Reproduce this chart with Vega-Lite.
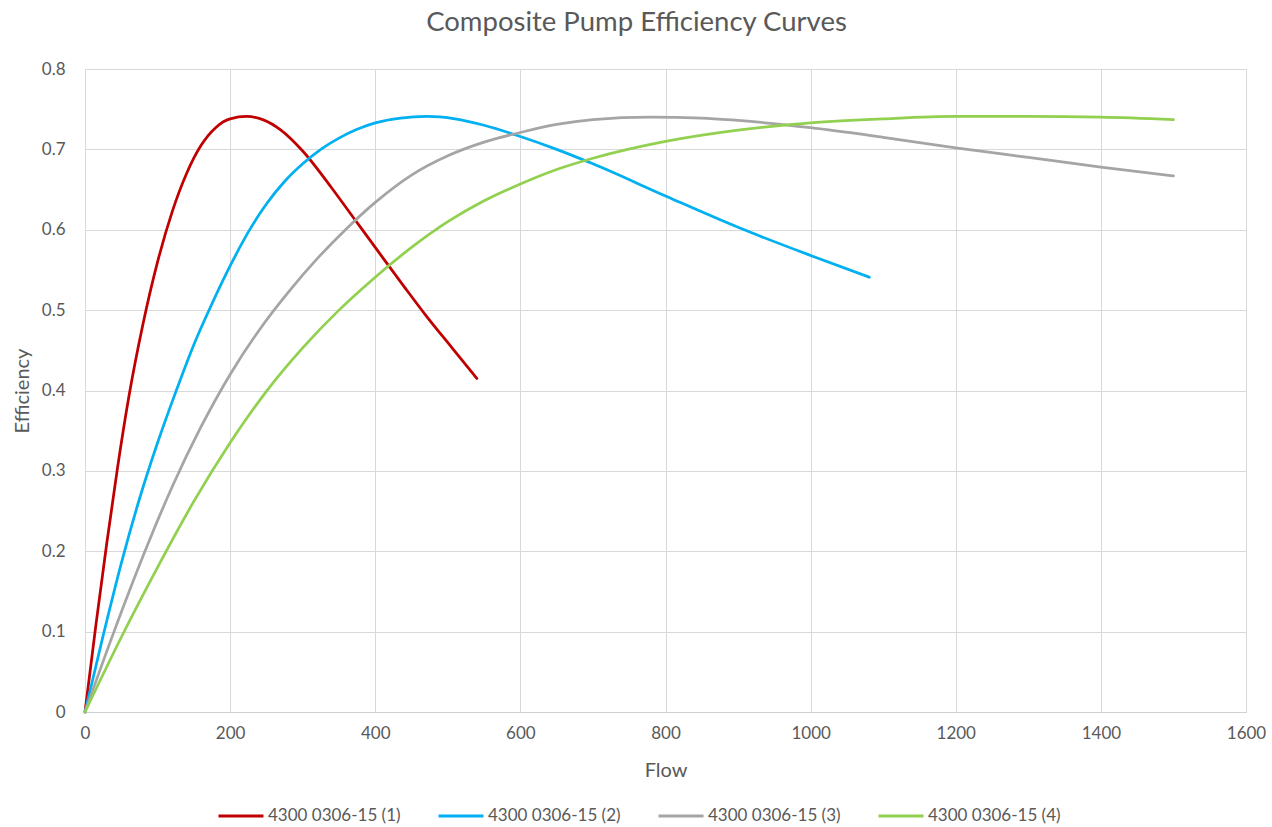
{
  "$schema": "https://vega.github.io/schema/vega-lite/v6.json",
  "autosize": {"type": "none"},
  "padding": {"left": 85, "top": 69, "right": 26, "bottom": 115},
  "width": 1161,
  "height": 643,
  "background": "white",
  "title": {
    "text": "Composite Pump Efficiency Curves",
    "font": "Lato",
    "fontSize": 27.5,
    "fontWeight": "normal",
    "color": "#595959",
    "anchor": "middle",
    "dx": -29,
    "offset": 24
  },
  "config": {
    "view": {"stroke": null}
  },
  "data": {
    "values": [
      {"series": "4300 0306-15 (1)", "flow": 0, "eff": 0},
      {"series": "4300 0306-15 (1)", "flow": 15, "eff": 0.108},
      {"series": "4300 0306-15 (1)", "flow": 30, "eff": 0.21},
      {"series": "4300 0306-15 (1)", "flow": 45, "eff": 0.305},
      {"series": "4300 0306-15 (1)", "flow": 60, "eff": 0.39},
      {"series": "4300 0306-15 (1)", "flow": 80, "eff": 0.483},
      {"series": "4300 0306-15 (1)", "flow": 100, "eff": 0.56},
      {"series": "4300 0306-15 (1)", "flow": 120, "eff": 0.622},
      {"series": "4300 0306-15 (1)", "flow": 140, "eff": 0.67},
      {"series": "4300 0306-15 (1)", "flow": 160, "eff": 0.705},
      {"series": "4300 0306-15 (1)", "flow": 180, "eff": 0.727},
      {"series": "4300 0306-15 (1)", "flow": 200, "eff": 0.738},
      {"series": "4300 0306-15 (1)", "flow": 223, "eff": 0.741},
      {"series": "4300 0306-15 (1)", "flow": 245, "eff": 0.737},
      {"series": "4300 0306-15 (1)", "flow": 270, "eff": 0.724},
      {"series": "4300 0306-15 (1)", "flow": 300, "eff": 0.698},
      {"series": "4300 0306-15 (1)", "flow": 340, "eff": 0.652},
      {"series": "4300 0306-15 (1)", "flow": 370, "eff": 0.615},
      {"series": "4300 0306-15 (1)", "flow": 400, "eff": 0.578},
      {"series": "4300 0306-15 (1)", "flow": 440, "eff": 0.529},
      {"series": "4300 0306-15 (1)", "flow": 471, "eff": 0.492},
      {"series": "4300 0306-15 (1)", "flow": 505, "eff": 0.454},
      {"series": "4300 0306-15 (1)", "flow": 540, "eff": 0.415},

      {"series": "4300 0306-15 (2)", "flow": 0, "eff": 0},
      {"series": "4300 0306-15 (2)", "flow": 25, "eff": 0.095},
      {"series": "4300 0306-15 (2)", "flow": 50, "eff": 0.185},
      {"series": "4300 0306-15 (2)", "flow": 75, "eff": 0.265},
      {"series": "4300 0306-15 (2)", "flow": 100, "eff": 0.335},
      {"series": "4300 0306-15 (2)", "flow": 125, "eff": 0.398},
      {"series": "4300 0306-15 (2)", "flow": 150, "eff": 0.457},
      {"series": "4300 0306-15 (2)", "flow": 175, "eff": 0.508},
      {"series": "4300 0306-15 (2)", "flow": 200, "eff": 0.555},
      {"series": "4300 0306-15 (2)", "flow": 225, "eff": 0.597},
      {"series": "4300 0306-15 (2)", "flow": 250, "eff": 0.632},
      {"series": "4300 0306-15 (2)", "flow": 275, "eff": 0.66},
      {"series": "4300 0306-15 (2)", "flow": 300, "eff": 0.682},
      {"series": "4300 0306-15 (2)", "flow": 325, "eff": 0.7},
      {"series": "4300 0306-15 (2)", "flow": 350, "eff": 0.714},
      {"series": "4300 0306-15 (2)", "flow": 375, "eff": 0.725},
      {"series": "4300 0306-15 (2)", "flow": 400, "eff": 0.733},
      {"series": "4300 0306-15 (2)", "flow": 435, "eff": 0.739},
      {"series": "4300 0306-15 (2)", "flow": 471, "eff": 0.741},
      {"series": "4300 0306-15 (2)", "flow": 510, "eff": 0.738},
      {"series": "4300 0306-15 (2)", "flow": 550, "eff": 0.73},
      {"series": "4300 0306-15 (2)", "flow": 600, "eff": 0.716},
      {"series": "4300 0306-15 (2)", "flow": 650, "eff": 0.7},
      {"series": "4300 0306-15 (2)", "flow": 700, "eff": 0.682},
      {"series": "4300 0306-15 (2)", "flow": 800, "eff": 0.642},
      {"series": "4300 0306-15 (2)", "flow": 900, "eff": 0.603},
      {"series": "4300 0306-15 (2)", "flow": 1000, "eff": 0.568},
      {"series": "4300 0306-15 (2)", "flow": 1081, "eff": 0.541},

      {"series": "4300 0306-15 (3)", "flow": 0, "eff": 0},
      {"series": "4300 0306-15 (3)", "flow": 40, "eff": 0.1},
      {"series": "4300 0306-15 (3)", "flow": 80, "eff": 0.194},
      {"series": "4300 0306-15 (3)", "flow": 120, "eff": 0.28},
      {"series": "4300 0306-15 (3)", "flow": 160, "eff": 0.355},
      {"series": "4300 0306-15 (3)", "flow": 200, "eff": 0.42},
      {"series": "4300 0306-15 (3)", "flow": 240, "eff": 0.475},
      {"series": "4300 0306-15 (3)", "flow": 280, "eff": 0.522},
      {"series": "4300 0306-15 (3)", "flow": 320, "eff": 0.564},
      {"series": "4300 0306-15 (3)", "flow": 360, "eff": 0.601},
      {"series": "4300 0306-15 (3)", "flow": 400, "eff": 0.634},
      {"series": "4300 0306-15 (3)", "flow": 450, "eff": 0.668},
      {"series": "4300 0306-15 (3)", "flow": 500, "eff": 0.692},
      {"series": "4300 0306-15 (3)", "flow": 550, "eff": 0.709},
      {"series": "4300 0306-15 (3)", "flow": 600, "eff": 0.721},
      {"series": "4300 0306-15 (3)", "flow": 650, "eff": 0.731},
      {"series": "4300 0306-15 (3)", "flow": 700, "eff": 0.737},
      {"series": "4300 0306-15 (3)", "flow": 780, "eff": 0.74},
      {"series": "4300 0306-15 (3)", "flow": 850, "eff": 0.739},
      {"series": "4300 0306-15 (3)", "flow": 900, "eff": 0.736},
      {"series": "4300 0306-15 (3)", "flow": 1000, "eff": 0.727},
      {"series": "4300 0306-15 (3)", "flow": 1100, "eff": 0.715},
      {"series": "4300 0306-15 (3)", "flow": 1200, "eff": 0.702},
      {"series": "4300 0306-15 (3)", "flow": 1300, "eff": 0.69},
      {"series": "4300 0306-15 (3)", "flow": 1400, "eff": 0.678},
      {"series": "4300 0306-15 (3)", "flow": 1500, "eff": 0.667},

      {"series": "4300 0306-15 (4)", "flow": 0, "eff": 0},
      {"series": "4300 0306-15 (4)", "flow": 50, "eff": 0.093},
      {"series": "4300 0306-15 (4)", "flow": 100, "eff": 0.18},
      {"series": "4300 0306-15 (4)", "flow": 150, "eff": 0.262},
      {"series": "4300 0306-15 (4)", "flow": 200, "eff": 0.335},
      {"series": "4300 0306-15 (4)", "flow": 250, "eff": 0.399},
      {"series": "4300 0306-15 (4)", "flow": 300, "eff": 0.453},
      {"series": "4300 0306-15 (4)", "flow": 350, "eff": 0.5},
      {"series": "4300 0306-15 (4)", "flow": 400, "eff": 0.541},
      {"series": "4300 0306-15 (4)", "flow": 450, "eff": 0.578},
      {"series": "4300 0306-15 (4)", "flow": 500, "eff": 0.61},
      {"series": "4300 0306-15 (4)", "flow": 550, "eff": 0.636},
      {"series": "4300 0306-15 (4)", "flow": 600, "eff": 0.657},
      {"series": "4300 0306-15 (4)", "flow": 650, "eff": 0.675},
      {"series": "4300 0306-15 (4)", "flow": 700, "eff": 0.689},
      {"series": "4300 0306-15 (4)", "flow": 800, "eff": 0.71},
      {"series": "4300 0306-15 (4)", "flow": 900, "eff": 0.724},
      {"series": "4300 0306-15 (4)", "flow": 1000, "eff": 0.733},
      {"series": "4300 0306-15 (4)", "flow": 1100, "eff": 0.738},
      {"series": "4300 0306-15 (4)", "flow": 1200, "eff": 0.741},
      {"series": "4300 0306-15 (4)", "flow": 1300, "eff": 0.741},
      {"series": "4300 0306-15 (4)", "flow": 1400, "eff": 0.74},
      {"series": "4300 0306-15 (4)", "flow": 1500, "eff": 0.737}
    ]
  },
  "mark": {"type": "line", "interpolate": "monotone", "strokeWidth": 2.75, "strokeCap": "round"},
  "encoding": {
    "x": {
      "field": "flow",
      "type": "quantitative",
      "scale": {"domain": [0, 1600], "nice": false, "zero": true},
      "axis": {
        "title": "Flow",
        "values": [0, 200, 400, 600, 800, 1000, 1200, 1400, 1600],
        "format": "d",
        "grid": true,
        "gridColor": "#d9d9d9",
        "gridWidth": 1,
        "domainColor": "#d0d0d0",
        "domainWidth": 1,
        "ticks": false,
        "labelFlush": false,
        "labelOverlap": false,
        "labelFont": "Lato",
        "labelFontSize": 17,
        "labelColor": "#595959",
        "labelPadding": 13,
        "titleFont": "Lato",
        "titleFontSize": 20,
        "titleFontWeight": "normal",
        "titleColor": "#595959",
        "titlePadding": 19
      }
    },
    "y": {
      "field": "eff",
      "type": "quantitative",
      "scale": {"domain": [0, 0.8], "nice": false},
      "axis": {
        "title": "Efficiency",
        "values": [0, 0.1, 0.2, 0.3, 0.4, 0.5, 0.6, 0.7, 0.8],
        "format": ".1~f",
        "grid": true,
        "gridColor": "#d9d9d9",
        "gridWidth": 1,
        "domain": false,
        "ticks": false,
        "labelFlush": false,
        "labelFont": "Lato",
        "labelFontSize": 17,
        "labelColor": "#595959",
        "labelPadding": 20,
        "titleFont": "Lato",
        "titleFontSize": 20,
        "titleFontWeight": "normal",
        "titleColor": "#595959",
        "titlePadding": 9
      }
    },
    "color": {
      "field": "series",
      "type": "nominal",
      "scale": {
        "domain": ["4300 0306-15 (1)", "4300 0306-15 (2)", "4300 0306-15 (3)", "4300 0306-15 (4)"],
        "range": ["#C00000", "#00B0F0", "#A5A5A5", "#92D050"]
      },
      "legend": {
        "title": null,
        "orient": "none",
        "legendX": 132,
        "legendY": 723,
        "direction": "horizontal",
        "symbolType": "stroke",
        "symbolSize": 2025,
        "symbolStrokeWidth": 3,
        "labelFont": "Lato",
        "labelFontSize": 17,
        "labelColor": "#595959",
        "labelOffset": 3,
        "columnPadding": 31,
        "gridAlign": "all"
      }
    }
  }
}
